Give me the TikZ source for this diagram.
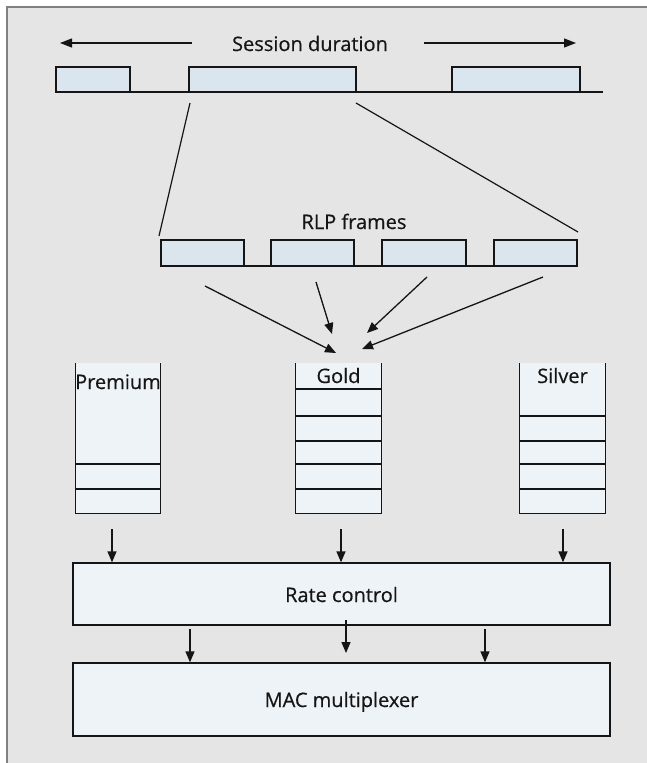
\documentclass[tikz,border=0pt]{standalone}
\usepackage{fontspec}
\setmainfont{Open Sans}
\newfontfamily\lblfont{Open Sans}[FakeBold=0.5]
\usetikzlibrary{arrows.meta}
\definecolor{bg}{HTML}{E5E5E5}
\definecolor{frameC}{HTML}{808080}
\definecolor{boxA}{HTML}{DAE5ED}
\definecolor{boxB}{HTML}{EEF3F7}
\definecolor{ink}{HTML}{151515}
\begin{document}
\begin{tikzpicture}[x=1pt,y=-1pt,
  lbl/.style={font=\lblfont\fontsize{20}{24}\selectfont, text=ink, inner sep=0pt, anchor=base},
  segbox/.style={draw=ink, fill=boxA, line width=1.3pt, inner sep=0pt, minimum height=25pt},
  bigbox/.style={draw=ink, fill=boxB, line width=1.3pt, inner sep=0pt, minimum width=537pt},
  qbody/.style={fill=boxB, draw=none, inner sep=0pt, minimum width=84pt, minimum height=150pt},
  qline/.style={draw=ink, line width=1.3pt},
  thin/.style={draw=ink, line width=1.2pt},
  arr/.style={draw=ink, line width=1.3pt, -{Triangle[length=11pt,width=9pt]}},
  sarr/.style={draw=ink, line width=1.3pt, -{Triangle[length=12pt,width=9pt]}}
]
\useasboundingbox (0,0) rectangle (647,763);
\fill[white] (0,0) rectangle (647,763);
\fill[bg] (7,7) rectangle (648,764);
\draw[frameC, line width=2pt] (7,764) -- (7,7) -- (648,7);

% session duration
\node[lbl] (sd) at (310,51) {Session duration};
\coordinate (sdL1) at (192,43);
\coordinate (sdL2) at (60,43);
\coordinate (sdR1) at (424,43);
\coordinate (sdR2) at (576,43);
\draw[sarr] (sdL1) -- (sdL2);
\draw[sarr] (sdR1) -- (sdR2);

% session segments
\coordinate (sEnd) at (603,92);
\draw[thin] (56,92) coordinate (sStart) -- (sEnd);
\node[segbox, minimum width=74pt] (s1) at (93,79.5) {};
\node[segbox, minimum width=167pt] (s2) at (272.5,79.5) {};
\node[segbox, minimum width=128pt] (s3) at (516,79.5) {};

% RLP frames
\node[lbl] (rlp) at (354,229) {RLP frames};
\draw[thin] (161,266) coordinate (rStart) -- (577,266) coordinate (rEnd);
\node[segbox, minimum width=83pt, minimum height=26pt] (r1) at (202.5,253) {};
\node[segbox, minimum width=83pt, minimum height=26pt] (r2) at (312.5,253) {};
\node[segbox, minimum width=84pt, minimum height=26pt] (r3) at (424,253) {};
\node[segbox, minimum width=83pt, minimum height=26pt] (r4) at (535.5,253) {};

% zoom lines
\coordinate (zL1) at (190,103);
\coordinate (zL2) at (159,236);
\coordinate (zR1) at (356,103);
\coordinate (zR2) at (578,232);
\draw[thin] (zL1) -- (zL2);
\draw[thin] (zR1) -- (zR2);

% arrows to Gold
\coordinate (a1) at (205,286); \coordinate (b1) at (336,353);
\coordinate (a2) at (316,282); \coordinate (b2) at (332,334);
\coordinate (a3) at (427,277); \coordinate (b3) at (367,333);
\coordinate (a4) at (543,277); \coordinate (b4) at (362,349);
\draw[arr] (a1) -- (b1);
\draw[arr] (a2) -- (b2);
\draw[arr] (a3) -- (b3);
\draw[arr] (a4) -- (b4);

% queues
\node[qbody] (pq) at (118,438) {};
\node[qbody, minimum width=85pt] (gq) at (338.5,438) {};
\node[qbody, minimum width=85pt] (sq) at (562.5,438) {};
\foreach \q in {pq,gq,sq}{
  \draw[qline] (\q.north west) -- (\q.south west) -- (\q.south east) -- (\q.north east);
}
\foreach \yy in {464,489}{
  \draw[qline] (76,\yy) -- (160,\yy);
}
\foreach \yy in {389,416,441,464,489}{
  \draw[qline] (296,\yy) -- (381,\yy);
}
\foreach \yy in {416,441,464,489}{
  \draw[qline] (520,\yy) -- (605,\yy);
}
\node[lbl] (pl) at (118,389) {Premium};
\node[lbl] (gl) at (338.5,383) {Gold};
\node[lbl] (sl) at (562.5,383) {Silver};

% rate control
\node[bigbox, minimum height=62pt] (rc) at (341.5,594) {};
\node[lbl] (rct) at (341.5,602) {Rate control};
\coordinate (q1) at (112,529);
\coordinate (q2) at (341,529);
\coordinate (q3) at (563,529);
\draw[arr] (q1) -- (q1 |- rc.north);
\draw[arr] (q2) -- (q2 |- rc.north);
\draw[arr] (q3) -- (q3 |- rc.north);

% MAC
\node[bigbox, minimum height=73pt] (mac) at (341.5,699.5) {};
\node[lbl] (mact) at (341.5,707) {MAC multiplexer};
\coordinate (m1) at (190,629);
\coordinate (m2a) at (346,620);
\coordinate (m2b) at (346,653);
\coordinate (m3) at (485,629);
\draw[arr] (m1) -- (m1 |- mac.north);
\draw[arr] (m2a) -- (m2b);
\draw[arr] (m3) -- (m3 |- mac.north);
\end{tikzpicture}
\end{document}
